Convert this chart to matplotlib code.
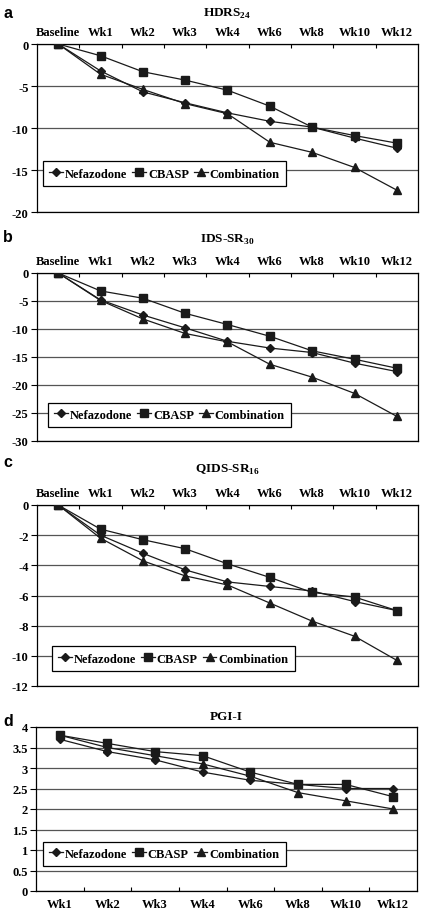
import matplotlib
matplotlib.use("Agg")
import matplotlib.pyplot as plt

# category labels
weeks_all = ["Baseline", "Wk1", "Wk2", "Wk3", "Wk4", "Wk6", "Wk8", "Wk10", "Wk12"]
weeks_pgi = ["Wk1", "Wk2", "Wk3", "Wk4", "Wk6", "Wk8", "Wk10", "Wk12"]

# a: HDRS24 change from baseline
hdrs_nef = [0, -3.2, -5.7, -7.0, -8.2, -9.2, -9.9, -11.2, -12.4]
hdrs_cbasp = [0, -1.4, -3.3, -4.3, -5.5, -7.4, -9.9, -10.9, -11.8]
hdrs_comb = [0, -3.6, -5.4, -7.1, -8.3, -11.7, -12.9, -14.7, -17.4]

# b: IDS-SR30
ids_nef = [0, -4.8, -7.5, -9.8, -12.2, -13.4, -14.2, -16.1, -17.6]
ids_cbasp = [0, -3.2, -4.5, -7.2, -9.2, -11.3, -13.9, -15.4, -17.0]
ids_comb = [0, -4.9, -8.2, -10.8, -12.3, -16.3, -18.6, -21.5, -25.6]

# c: QIDS-SR16
qids_nef = [0, -2.0, -3.2, -4.3, -5.1, -5.4, -5.7, -6.4, -7.0]
qids_cbasp = [0, -1.6, -2.3, -2.9, -3.9, -4.8, -5.8, -6.1, -7.0]
qids_comb = [0, -2.2, -3.7, -4.7, -5.3, -6.5, -7.7, -8.7, -10.3]

# d: PGI-I
pgi_nef = [3.7, 3.4, 3.2, 2.9, 2.7, 2.6, 2.5, 2.5]
pgi_cbasp = [3.8, 3.6, 3.4, 3.3, 2.9, 2.6, 2.6, 2.3]
pgi_comb = [3.8, 3.5, 3.3, 3.1, 2.8, 2.4, 2.2, 2.0]

W, H = 421, 912
SERIF = "Liberation Serif"
FS = 9
INK = "#1a1a1a"

plt.rcParams["font.family"] = SERIF
plt.rcParams["font.weight"] = "bold"
plt.rcParams["mathtext.fontset"] = "custom"
plt.rcParams["mathtext.rm"] = "Liberation Serif:bold"
plt.rcParams["mathtext.bf"] = "Liberation Serif:bold"

fig = plt.figure(figsize=(W / 100, H / 100), dpi=100)


def px_axes(l, t, r, b):
    return fig.add_axes([l / W, 1 - b / H, (r - l) / W, (b - t) / H])


def draw_panel(box, letter, letter_y, title, title_y, cats, nef, cbasp, comb,
               ylim, yticks, ylabels, top_axis, leg_pos):
    ax = px_axes(*box)
    x = list(range(len(cats)))
    ax.plot(x, nef, color=INK, lw=0.9, marker="D", ms=4.5, label="Nefazodone", zorder=3)
    ax.plot(x, cbasp, color=INK, lw=0.9, marker="s", ms=5.5, label="CBASP", zorder=3)
    ax.plot(x, comb, color=INK, lw=0.9, marker="^", ms=6, label="Combination", zorder=3)

    ax.set_xlim(-0.5, len(cats) - 0.5)
    ax.set_ylim(*ylim)
    ax.set_yticks(yticks)
    ax.set_yticklabels(ylabels, fontsize=FS, fontweight="bold")
    ax.tick_params(axis="y", direction="out", length=4, width=0.8, pad=2)
    for y in yticks:
        ax.axhline(y, color="#555555", lw=0.9, zorder=1)

    ax.set_xticks(x)
    ax.set_xticklabels(cats, fontsize=FS, fontweight="bold")
    ax.set_xticks([i + 0.5 for i in x[:-1]], minor=True)
    if top_axis:
        ax.xaxis.tick_top()
        ax.tick_params(axis="x", which="major", length=0, pad=4)
        ax.tick_params(axis="x", which="minor", direction="in", length=3, width=0.8, top=True, bottom=False)
    else:
        ax.tick_params(axis="x", which="major", length=0, pad=5)
        ax.tick_params(axis="x", which="minor", direction="in", length=3, width=0.8)
    for s in ax.spines.values():
        s.set_linewidth(0.9)
        s.set_color("black")

    leg = ax.legend(loc="lower left", bbox_to_anchor=leg_pos, ncol=3, fontsize=FS,
                    frameon=True, fancybox=False, framealpha=1, edgecolor="black",
                    handlelength=1.1, handletextpad=0.15, columnspacing=0.4,
                    borderpad=0.5, borderaxespad=0)
    leg.get_frame().set_linewidth(0.9)
    for t in leg.get_texts():
        t.set_fontweight("bold")

    cx = (box[0] + box[2]) / 2 / W
    fig.text(cx, 1 - title_y / H, title, ha="center", va="center", fontsize=FS + 0.5,
             fontweight="bold", family=SERIF)
    fig.text(3 / W, 1 - letter_y / H, letter, ha="left", va="center", fontsize=11.5,
             fontweight="bold", family="Liberation Sans")
    return ax


draw_panel((37, 45, 418, 213), "a", 13, r"HDRS$_{\mathrm{24}}$", 14, weeks_all,
           hdrs_nef, hdrs_cbasp, hdrs_comb, (-20, 0), [0, -5, -10, -15, -20],
           ["0", "-5", "-10", "-15", "-20"], True, (0.016, 0.155))
draw_panel((37, 274, 418, 442), "b", 238, r"IDS-SR$_{\mathrm{30}}$", 240, weeks_all,
           ids_nef, ids_cbasp, ids_comb, (-30, 0), [0, -5, -10, -15, -20, -25, -30],
           ["0", "-5", "-10", "-15", "-20", "-25", "-30"], True, (0.029, 0.083))
draw_panel((37, 506, 418, 687), "c", 463, r"QIDS-SR$_{\mathrm{16}}$", 470, weeks_all,
           qids_nef, qids_cbasp, qids_comb, (-12, 0), [0, -2, -4, -6, -8, -10, -12],
           ["0", "-2", "-4", "-6", "-8", "-10", "-12"], True, (0.039, 0.083))
draw_panel((36, 728, 417, 892), "d", 721, "PGI-I", 717, weeks_pgi,
           pgi_nef, pgi_cbasp, pgi_comb, (0, 4), [0, 0.5, 1, 1.5, 2, 2.5, 3, 3.5, 4],
           ["0", "0.5", "1", "1.5", "2", "2.5", "3", "3.5", "4"], False, (0.018, 0.152))

fig.savefig("out.png", dpi=100)
